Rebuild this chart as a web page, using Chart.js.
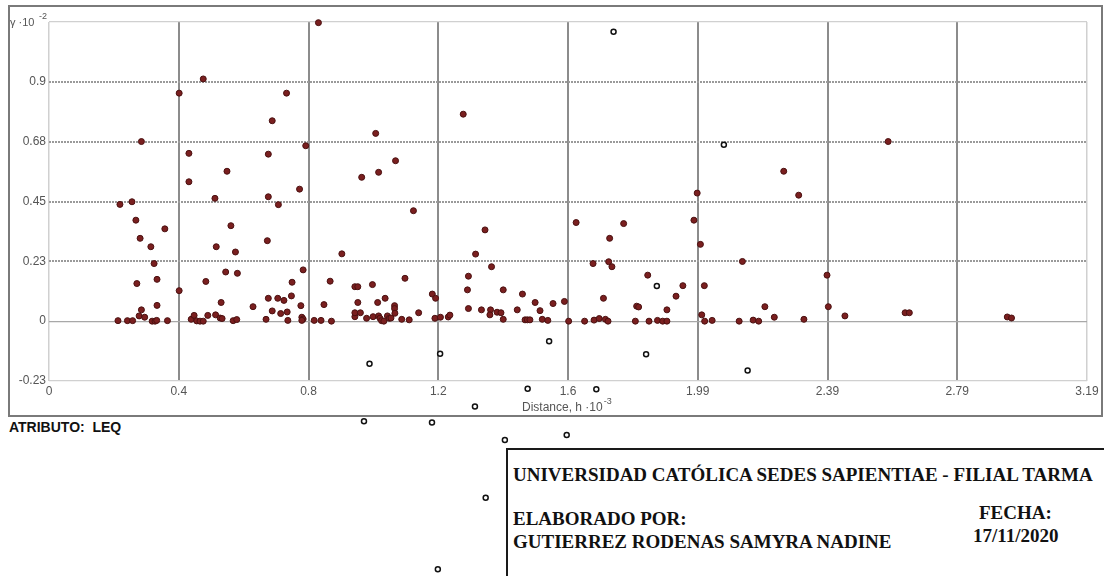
<!DOCTYPE html>
<html>
<head>
<meta charset="utf-8">
<script src="https://cdn.jsdelivr.net/npm/chart.js@4"></script>
<style>
  body { margin: 0; background: #fff; width: 1104px; height: 576px; overflow: hidden; position: relative; }
  #chart { position: absolute; left: 0; top: 0; z-index: 2; }
  .atrib { position: absolute; left: 9px; top: 419px; font: bold 14px "Liberation Sans", Arial, sans-serif; color: #111; white-space: pre; }
  .box { position: absolute; left: 506px; top: 448px; width: 640px; height: 150px; border: 2px solid #1a1a1a; }
  .box div { position: absolute; font: bold 19px "Liberation Serif", "Times New Roman", serif; color: #111; white-space: nowrap; }
</style>
</head>
<body>
<canvas id="chart" width="1104" height="576"></canvas>
<div class="atrib">ATRIBUTO:  LEQ</div>
<div class="box">
  <div style="left:5px; top:14px;">UNIVERSIDAD CATÓLICA SEDES SAPIENTIAE - FILIAL TARMA</div>
  <div style="left:5px; top:58px;">ELABORADO POR:</div>
  <div style="left:5px; top:81px;">GUTIERREZ RODENAS SAMYRA NADINE</div>
  <div style="left:471px; top:52px;">FECHA:</div>
  <div style="left:465px; top:75px;">17/11/2020</div>
</div>
<script>
// variogram points (distance h·10^-3, gamma·10^-2)
const lagDist = [0.212,0.218,0.241,0.255,0.257,0.267,0.270,0.277,0.280,0.284,0.284,0.294,0.313,0.317,0.323,0.326,0.331,0.332,0.332,0.356,
  0.364,0.400,0.400,0.430,0.430,0.437,0.446,0.454,0.464,0.474,0.474,0.482,0.488,0.510,0.512,0.514,0.526,0.529,0.532,0.543,
  0.547,0.559,0.566,0.573,0.577,0.579,0.627,0.667,0.671,0.674,0.674,0.674,0.686,0.686,0.703,0.705,0.712,0.722,0.730,0.732,
  0.734,0.745,0.747,0.770,0.774,0.777,0.781,0.777,0.781,0.789,0.815,0.828,0.836,0.845,0.864,0.868,0.900,0.940,0.949,0.940,
  0.940,0.957,0.949,0.961,0.976,0.994,0.996,1.004,1.010,1.013,1.013,1.017,1.022,1.029,1.033,1.040,1.046,1.051,1.062,1.062,
  1.063,1.065,1.084,1.094,1.107,1.120,1.136,1.178,1.188,1.186,1.203,1.227,1.232,1.273,1.286,1.289,1.289,1.311,1.329,1.340,
  1.357,1.355,1.360,1.377,1.389,1.396,1.396,1.439,1.455,1.463,1.470,1.478,1.494,1.509,1.516,1.533,1.549,1.584,1.597,1.620,
  1.646,1.672,1.675,1.691,1.704,1.710,1.718,1.720,1.723,1.730,1.766,1.802,1.806,1.812,1.840,1.844,1.870,1.886,1.899,1.899,
  1.927,1.948,1.982,1.992,2.002,2.006,2.014,2.015,2.038,2.121,2.131,2.164,2.181,2.200,2.229,2.258,2.304,2.320,2.391,2.395,
  2.446,2.579,2.631,2.644,2.945,2.958];
const gammaVals = [0.002,0.444,0.002,0.454,0.002,0.384,0.143,0.020,0.315,0.043,0.683,0.015,0.283,0,0.219,0,0.003,0.159,0.060,0.351,
  0.002,0.116,0.867,0.638,0.530,0.007,0.022,0.001,0,0,0.921,0.151,0.022,0.467,0.024,0.283,0.012,0.071,0.010,0.187,
  0.570,0.363,0.002,0.263,0.006,0.182,0.055,0.007,0.306,0.635,0.473,0.087,0.039,0.762,0.087,0.443,0.029,0.079,0.867,0.035,
  0.003,0.096,0.148,0.502,0.059,0.015,0.008,0.003,0.195,0.667,0.003,1.135,0.003,0.063,0.152,0,0.256,0.131,0.131,0.017,
  0.032,0.032,0.071,0.547,0.011,0.139,0.017,0.714,0.071,0.020,0.566,0.011,0.002,0,0.087,0.020,0.011,0.012,0.059,0.048,
  0.030,0.610,0.007,0.163,0.005,0.420,0.032,0.103,0.087,0.011,0.015,0.016,0.023,0.787,0.119,0.171,0.048,0.255,0.043,0.347,
  0.043,0.024,0.207,0.034,0.032,0.119,0.007,0.043,0.103,0.005,0.005,0.005,0.071,0.040,0.007,0.003,0.067,0.075,0,0.375,
  0,0.219,0.004,0.010,0.087,0.007,0,0.226,0.315,0.207,0.371,0,0.057,0.054,0.175,0,0.003,0,0,0.043,
  0.095,0.135,0.384,0.487,0.292,0.024,0.135,0,0.003,0,0.227,0.004,0,0.055,0.015,0.570,0.479,0.007,0.175,0.055,
  0.020,0.683,0.032,0.032,0.016,0.012];

// hollow (excluded) points
const outDist = [0.968,0.985,1.177,1.195,1.202,1.309,1.342,1.401,1.471,1.537,1.591,1.682,1.735,1.835,1.868,2.074,2.147];
const outGamma = [-0.381,-0.162,-0.385,-0.943,-0.124,-0.324,-0.671,-0.452,-0.257,-0.076,-0.433,-0.259,1.100,-0.126,0.134,0.671,-0.188];

const xTickVals = [0, 0.39875, 0.7975, 1.19625, 1.595, 1.99375, 2.3925, 2.79125, 3.19];
const xTickLabels = ["0", "0.4", "0.8", "1.2", "1.6", "1.99", "2.39", "2.79", "3.19"];
const yTickVals = [-0.2275, 0, 0.2275, 0.455, 0.6825, 0.91, 1.1375];
const yTickLabels = ["-0.23", "0", "0.23", "0.45", "0.68", "0.9", ""];

const tickFont = { family: "'Liberation Sans', Arial, sans-serif", size: 12 };

// frame, axis captions, and points that fall outside the plot box
const decorPlugin = {
  id: 'decor',
  beforeDraw(chart) {
    const c = chart.ctx;
    c.save();
    c.strokeStyle = '#7a7a7a';
    c.lineWidth = 2;
    c.strokeRect(9, 6, 1093, 410);
    c.restore();
  },
  afterDatasetsDraw(chart) {
    const area = chart.chartArea;
    const whole = { left: 0, top: 0, right: chart.width, bottom: chart.height };
    chart.data.datasets.forEach((ds, i) => {
      chart.getDatasetMeta(i).data.forEach(p => {
        if (p.y > area.bottom + 2 || p.y < area.top - 2) p.draw(chart.ctx, whole);
      });
    });
  },
  afterDraw(chart) {
    const c = chart.ctx;
    c.save();
    c.fillStyle = '#555';
    c.textBaseline = 'alphabetic';
    // y caption
    c.font = "11px 'Liberation Sans', Arial, sans-serif";
    c.fillText('γ ·10', 10, 26);
    c.font = "9px 'Liberation Sans', Arial, sans-serif";
    c.fillText('-2', 39, 19);
    // x caption
    c.font = "12px 'Liberation Sans', Arial, sans-serif";
    const t = 'Distance, h ·10';
    c.fillText(t, 522, 411);
    const w = c.measureText(t).width;
    c.font = "9px 'Liberation Sans', Arial, sans-serif";
    c.fillText('-3', 522 + w + 1, 404);
    c.restore();
  }
};

new Chart(document.getElementById('chart'), {
  type: 'scatter',
  data: {
    datasets: [{
      data: lagDist.map((d, i) => ({ x: d, y: gammaVals[i] })),
      backgroundColor: '#7a1f1f',
      borderColor: '#4a1010',
      borderWidth: 1,
      pointRadius: 3,
      clip: false
    }, {
      data: outDist.map((d, i) => ({ x: d, y: outGamma[i] })),
      backgroundColor: '#ffffff',
      borderColor: '#111111',
      borderWidth: 1.5,
      pointRadius: 2.5,
      clip: false
    }]
  },
  options: {
    responsive: false,
    animation: false,
    devicePixelRatio: 1,
    layout: { padding: { left: 0, top: 22, right: 17, bottom: 0 } },
    plugins: { legend: { display: false }, tooltip: { enabled: false } },
    scales: {
      x: {
        type: 'linear',
        min: 0,
        max: 3.19,
        afterBuildTicks: s => { s.ticks = xTickVals.map(v => ({ value: v })); },
        afterFit: s => { s.height = 195; },
        ticks: {
          autoSkip: false,
          maxRotation: 0,
          padding: 3,
          color: '#555',
          font: tickFont,
          callback: (v, i) => xTickLabels[i]
        },
        grid: {
          drawTicks: false,
          color: ctx => (ctx.index === 0 || ctx.index === xTickVals.length - 1) ? '#d0d0d0' : '#8c8c8c',
          lineWidth: ctx => (ctx.index === 0 || ctx.index === xTickVals.length - 1) ? 1.5 : 2
        },
        border: { display: false }
      },
      y: {
        min: -0.2275,
        max: 1.1375,
        afterBuildTicks: s => { s.ticks = yTickVals.map(v => ({ value: v })); },
        afterFit: s => { s.width = 49; },
        ticks: {
          autoSkip: false,
          padding: 3,
          color: '#555',
          font: tickFont,
          callback: (v, i) => yTickLabels[i]
        },
        grid: {
          drawTicks: false,
          color: ctx => {
            if (ctx.index === 0 || ctx.index === yTickVals.length - 1) return '#d0d0d0';
            if (ctx.index === 1) return '#a8a8a8';
            return '#9a9a9a';
          },
          lineWidth: ctx => (ctx.index === 1 || ctx.index === 0 || ctx.index === yTickVals.length - 1) ? 1.2 : 2
        },
        border: {
          display: false,
          dash: ctx => (ctx.index > 1 && ctx.index < yTickVals.length - 1) ? [2, 1] : []
        }
      }
    }
  },
  plugins: [decorPlugin]
});
</script>
</body>
</html>
